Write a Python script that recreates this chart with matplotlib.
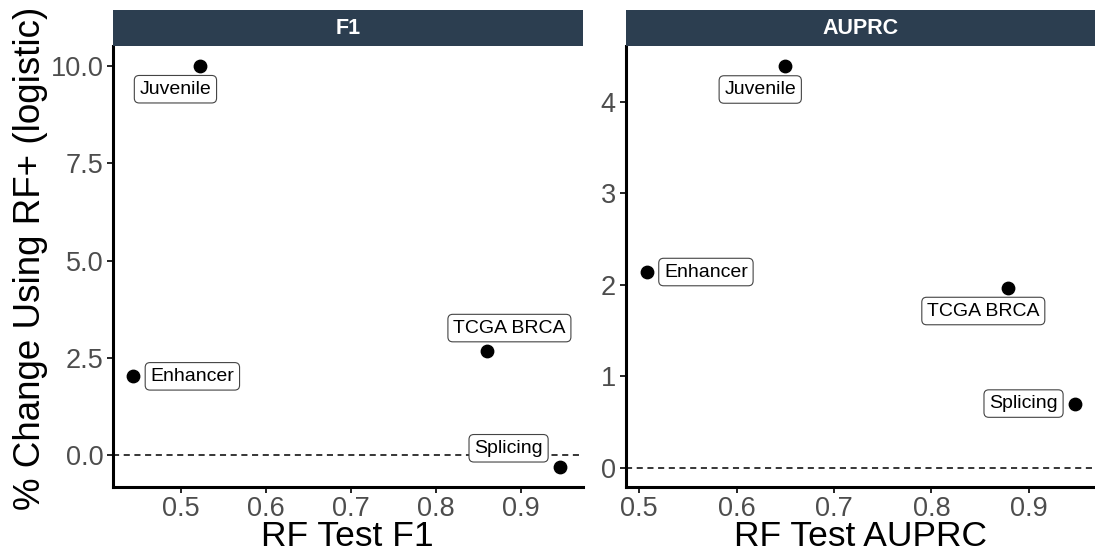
import matplotlib
matplotlib.use("Agg")
import matplotlib.pyplot as plt

plt.rcParams['font.family'] = ['Liberation Sans', 'DejaVu Sans']

# data
datasets = ["Juvenile", "Enhancer", "TCGA BRCA", "Splicing"]
f1_x = [0.523, 0.444, 0.861, 0.946]
f1_y = [10.0, 2.02, 2.67, -0.32]
auprc_x = [0.650, 0.508, 0.879, 0.947]
auprc_y = [4.39, 2.14, 1.965, 0.70]

panels = ["F1", "AUPRC"]
f1_yticks = [0.0, 2.5, 5.0, 7.5, 10.0]
auprc_yticks = [0, 1, 2, 3, 4]
x_ticks = [0.5, 0.6, 0.7, 0.8, 0.9]

# label offsets in pixels (dx, dy) from each point, like ggrepel placed them
f1_offsets = [(-25, -23), (59, 0), (22, 23), (-51, 19)]
auprc_offsets = [(-25, -23), (59, 0), (-25, -23), (-51, 0)]

W, H = 1095, 555
fig = plt.figure(figsize=(W / 100, H / 100), dpi=100)

strip_color = "#2C3E50"
top, bottom = 46.4, 486.7
boxes = [(113, 582.5), (625.5, 1095)]
limits = [((0.420, 0.973), (-0.82, 10.51)), ((0.486, 0.968), (-0.21, 4.61))]
xs = [f1_x, auprc_x]
ys = [f1_y, auprc_y]
offs = [f1_offsets, auprc_offsets]
yticks = [f1_yticks, auprc_yticks]

for i, name in enumerate(panels):
    x0, x1 = boxes[i]
    ax = fig.add_axes([x0 / W, (H - bottom) / H, (x1 - x0) / W, (bottom - top) / H])
    ax.set_xlim(*limits[i][0])
    ax.set_ylim(*limits[i][1])
    ax.axhline(0, color="black", linestyle=(0, (4, 3)), linewidth=1.1, zorder=1)
    ax.scatter(xs[i], ys[i], s=80, color="black", zorder=3)
    for lab, x, y, (dx, dy) in zip(datasets, xs[i], ys[i], offs[i]):
        ax.annotate(lab, (x, y), xytext=(dx, dy), textcoords="offset pixels",
                    ha="center", va="center", fontsize=14, zorder=4,
                    bbox=dict(boxstyle="round,pad=0.27,rounding_size=0.25",
                              fc="white", ec="#444444", lw=0.8))
    for s in ["top", "right"]:
        ax.spines[s].set_visible(False)
    for s in ["left", "bottom"]:
        ax.spines[s].set_linewidth(2.2)
    ax.set_xticks(x_ticks)
    ax.set_xticklabels([f"{t:.1f}" for t in x_ticks])
    ax.set_yticks(yticks[i])
    if i == 0:
        ax.set_yticklabels([f"{t:.1f}" for t in yticks[i]])
    else:
        ax.set_yticklabels([f"{t:d}" for t in yticks[i]])
    ax.tick_params(labelsize=19.5, labelcolor="#4D4D4D", length=4, width=1.2, pad=3)

    # x axis title, sitting near the bottom edge as in the reference
    fig.text((x0 + x1) / 2 / W, 1 - 546 / H, f"RF Test {name}", fontsize=25.5,
             ha="center", va="baseline")

    # facet strip
    sax = fig.add_axes([x0 / W, (H - top) / H, (x1 - x0) / W, (top - 9.6) / H])
    sax.set_facecolor(strip_color)
    sax.set_xticks([])
    sax.set_yticks([])
    for s in sax.spines.values():
        s.set_visible(False)
    sax.text(0.5, 0.5, name, color="white", fontsize=15.5, fontweight="bold",
             ha="center", va="center", transform=sax.transAxes)

fig.text(30.6 / W, 1 - 258 / H, "% Change Using RF+ (logistic)", rotation=90,
         fontsize=26.5, ha="center", va="center")

plt.savefig("out.png", dpi=100)
